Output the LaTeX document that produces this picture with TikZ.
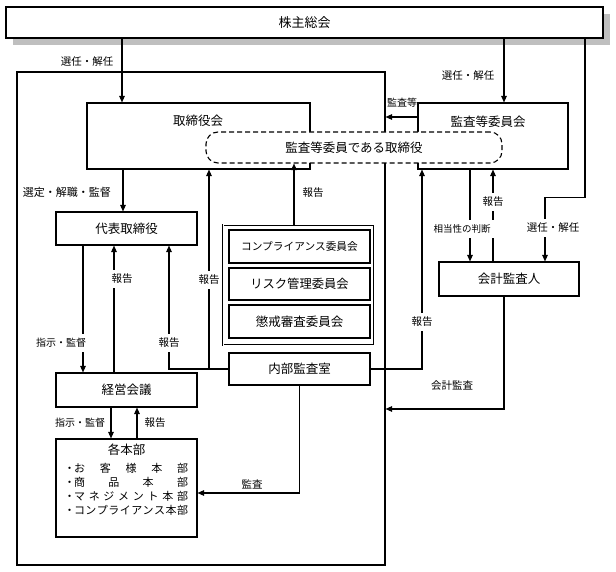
\documentclass[tikz,border=0pt]{standalone}
\usepackage{fontspec}
\setmainfont{Noto Sans CJK JP}
\usetikzlibrary{arrows.meta}
\begin{document}
\begin{tikzpicture}[x=1pt,y=-1pt,
  line width=1.1pt,
  box/.style={draw, fill=white, inner sep=0pt, font=\fontsize{12.5}{14}\selectfont},
  btxt/.style={inner sep=0pt, font=\fontsize{12.5}{14}\selectfont},
  arr/.style={-{Triangle[length=6.5pt,width=5.5pt]}},
  lbl/.style={fill=white, inner xsep=1.5pt, inner ysep=4pt, font=\fontsize{10.5}{12}\selectfont},
  txt/.style={inner sep=0pt, font=\fontsize{10.5}{12}\selectfont},
  item/.style={anchor=west, inner sep=0pt, font=\fontsize{11}{12}\selectfont},
]
\useasboundingbox (0,0) rectangle (616,572);

% helper coordinates
\foreach \x in {83,111,114,122,123,137,169,209,294,422,470,493,504,545,585}{\coordinate (X\x) at (\x,0);}
\foreach \y in {117,409,493}{\coordinate (Y\y) at (0,\y);}

% shareholders meeting with shadow
\fill[black!25] (13,14) rectangle (610,45);
\node[box, minimum width=597pt, minimum height=31pt, font=\fontsize{13}{14}\selectfont] (sh) at (304.5,22.5) {株主総会};

% company frame
\node[draw, inner sep=0pt, minimum width=368pt, minimum height=493pt] (company) at (201,318.5) {};

% board and audit committee
\node[box, minimum width=223pt, minimum height=66pt] (tb) at (198.5,136) {};
\node[btxt] (tbT) at (198,121) {取締役会};
\node[box, minimum width=150pt, minimum height=66pt] (ki) at (493,136) {};
\node[btxt] (kiT) at (488,122) {監査等委員会};
\node[draw, dash pattern=on 5pt off 3pt, rounded corners=12pt, fill=white, inner sep=0pt,
      minimum width=296pt, minimum height=31pt, font=\fontsize{12.5}{14}\selectfont] (kt) at (354,147.5) {監査等委員である取締役};

% left column
\node[box, minimum width=141pt, minimum height=33pt] (dh) at (126.5,228.5) {代表取締役};
\node[box, minimum width=141pt, minimum height=34pt] (km) at (126.5,390) {経営会議};
\node[box, minimum width=141pt, minimum height=98pt] (kb) at (126.5,488) {};
\node[btxt] (kbT) at (126.5,450) {各本部};
\node[item] (h1) at (64.5,468) {\makebox[9pt]{・}\makebox[114pt]{お\hfill 客\hfill 様\hfill 本\hfill 部}};
\node[item] (h2) at (64.5,482) {\makebox[9pt]{・}\makebox[114pt]{商\hfill 品\hfill 本\hfill 部}};
\node[item] (h3) at (64.5,496) {\makebox[9pt]{・}\makebox[114pt]{マ\hfill ネ\hfill ジ\hfill メ\hfill ン\hfill ト\hfill 本\hfill 部}};
\node[item] (h4) at (64.5,510) {\makebox[9pt]{・}\makebox[114pt]{コ\hfill ン\hfill プ\hfill ラ\hfill イ\hfill ア\hfill ン\hfill ス\hfill 本\hfill 部}};

% committees
\node[draw, double, double distance=1pt, line width=0.7pt, inner sep=0pt, minimum width=151pt, minimum height=120pt] (cm) at (298.5,285) {};
\node[box, minimum width=141pt, minimum height=33pt, font=\fontsize{10.7}{12}\selectfont] (c1) at (299.5,246.5) {コンプライアンス委員会};
\node[box, minimum width=141pt, minimum height=32pt, font=\fontsize{12.3}{14}\selectfont] (c2) at (299.5,284) {リスク管理委員会};
\node[box, minimum width=141pt, minimum height=33pt] (c3) at (299.5,321.5) {懲戒審査委員会};
\node[box, minimum width=141pt, minimum height=32pt] (nb) at (299.5,369) {内部監査室};

% accounting auditor
\node[box, minimum width=140pt, minimum height=34pt] (kk) at (509,279) {会計監査人};

% connectors from shareholders meeting
\draw[arr] (sh.south -| X122) -- (tb.north -| X122);
\node[txt] (l1) at (87,62) {選任・解任};
\draw[arr] (sh.south -| X504) -- (ki.north -| X504);
\node[txt] (l2) at (468,76) {選任・解任};
\draw[arr] (sh.south -| X585) -- ++(0,159) -| (kk.north -| X545);
\node[lbl] (l3) at (553,228) {選任・解任};

% audit committee -> board
\draw[arr] (ki.west |- Y117) -- (company.east |- Y117);
\node[txt, font=\fontsize{10}{12}\selectfont] (l4) at (402,103) {監査等};

% board -> representative director
\draw[arr] (tb.south -| X123) -- (dh.north -| X123);
\node[txt, font=\fontsize{11}{12}\selectfont] (l5) at (67,192) {選定・解職・監督};

% representative director <-> management meeting
\draw[arr] (dh.south -| X83) -- (km.north -| X83);
\node[lbl, font=\fontsize{10}{12}\selectfont] (l6) at (61,343) {指示・監督};
\draw[arr] (km.north -| X114) -- (dh.south -| X114);
\node[lbl] (l7) at (122,279) {報告};

% internal audit reports
\draw[arr] (nb.west) -| (dh.south -| X169);
\node[lbl] (l8) at (169,343) {報告};
\draw[arr] (nb.west -| X209) -- (tb.south -| X209);
\node[lbl] (l9) at (209,280) {報告};
\draw[arr] (cm.north -| X294) -- (kt.south -| X294);
\node[txt] (l10) at (313,193) {報告};
\draw[arr] (nb.east) -| (ki.south -| X422);
\node[lbl] (l11) at (422,322) {報告};

% audit committee <-> accounting auditor
\draw[arr] (kk.north -| X493) -- (ki.south -| X493);
\node[lbl] (l13) at (493,202) {報告};
\draw[arr] (ki.south -| X470) -- (kk.north -| X470);
\node[lbl, inner xsep=3.5pt, inner ysep=5pt, font=\fontsize{9.5}{11}\selectfont] (l12) at (462,229) {相当性の判断};

% accounting audit
\draw[arr] (kk.south -| X504) |- (company.east |- Y409);
\node[txt] (l14) at (452,386) {会計監査};

% management meeting <-> divisions
\draw[arr] (km.south -| X111) -- (kb.north -| X111);
\node[txt, font=\fontsize{10}{12}\selectfont] (l15) at (80,423) {指示・監督};
\draw[arr] (kb.north -| X137) -- (km.south -| X137);
\node[txt] (l16) at (155,423) {報告};

% internal audit -> divisions
\draw[arr] (nb.south) |- (kb.east |- Y493);
\node[txt] (l17) at (252,484) {監査};
\end{tikzpicture}
\end{document}
